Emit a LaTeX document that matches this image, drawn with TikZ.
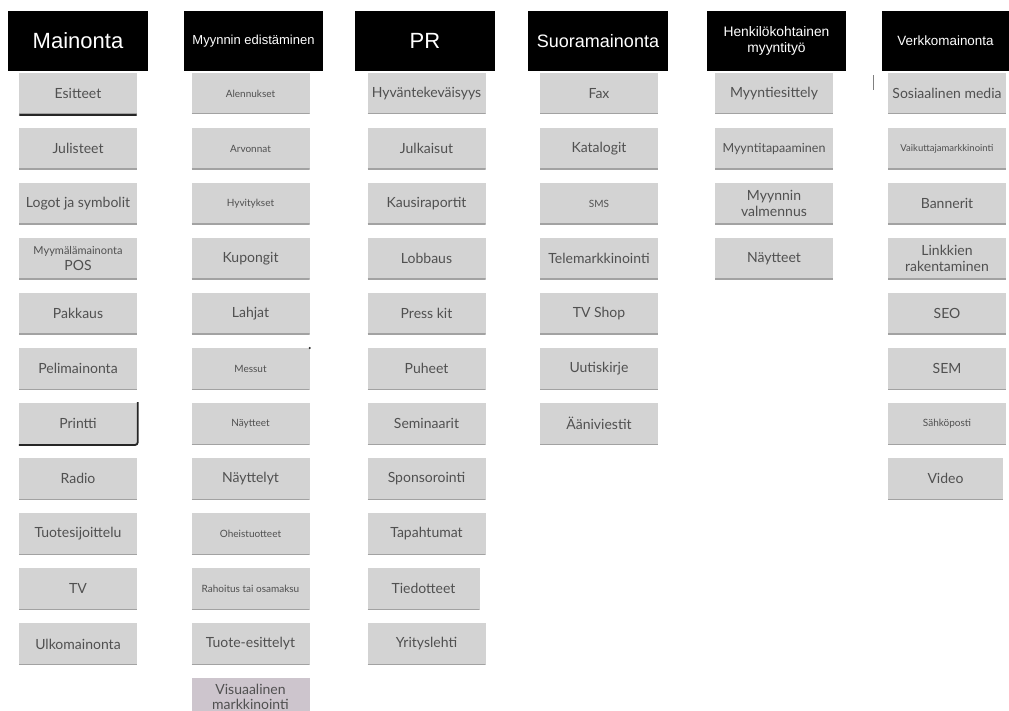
\documentclass[tikz,border=0pt]{standalone}
\usepackage{fontspec}
\setmainfont{Lato}
\newfontfamily\hdfont{Liberation Sans}
\usetikzlibrary{positioning}
\definecolor{boxgray}{HTML}{D3D3D3}
\definecolor{visgray}{HTML}{CDC5CD}
\definecolor{txtgray}{HTML}{505050}
\definecolor{edge}{HTML}{A2A2A2}
\newcommand{\fs}[1]{\fontsize{#1}{16}\selectfont}
\tikzset{
  head/.style={fill=black,text=white,minimum width=140pt,minimum height=60pt,inner sep=2pt,align=center,font=\hdfont\fs{13}},
  box/.style={fill=boxgray,minimum width=118pt,minimum height=41pt,inner sep=1pt,align=center,text=txtgray,font=\fs{14},
    path picture={\draw[edge,line width=1.4pt] (path picture bounding box.south west) -- (path picture bounding box.south east);}},
  sbox/.style={box,font=\fs{10}},
  dark/.style={line width=1.8pt,draw=black!85,line cap=round},
}

\begin{document}
\begin{tikzpicture}[x=1pt,y=1pt,node distance=13.64pt]
  \useasboundingbox (0,0) rectangle (1009,-711);
  % headers
  \node[head,font=\hdfont\fs{22}] (ma) at (78,-41) {Mainonta};
  \node[head,minimum width=139pt] (me) at (253.5,-41) {Myynnin edistäminen};
  \node[head,font=\hdfont\fs{22}] (pr) at (425,-41) {PR};
  \node[head,font=\hdfont\fs{18}] (su) at (598,-41) {Suoramainonta};
  \node[head,minimum width=139pt,font=\hdfont\fs{13.8}] (hm) at (776.5,-41) {Henkilökohtainen\\myyntityö};
  \node[head,minimum width=127pt,font=\hdfont\fs{13.4}] (vm) at (945.5,-41) {Verkkomainonta};
  % Mainonta
  \node[box] (ma1) at (78,-93.5) {Esitteet};
  \node[box,below=of ma1] (ma2) {Julisteet};
  \node[box,below=of ma2] (ma3) {Logot ja symbolit};
  \node[box,below=of ma3] (ma4) {{\fs{11}Myymälämainonta}\\POS};
  \node[box,below=of ma4] (ma5) {Pakkaus};
  \node[box,below=of ma5] (ma6) {Pelimainonta};
  \node[box,below=of ma6] (ma7) {Printti};
  \node[box,below=of ma7] (ma8) {Radio};
  \node[box,below=of ma8] (ma9) {Tuotesijoittelu};
  \node[box,below=of ma9] (ma10) {TV};
  \node[box,below=of ma10] (ma11) {Ulkomainonta};
  % Myynnin edistaminen
  \node[sbox] (me1) at (250.5,-93.5) {Alennukset};
  \node[sbox,below=of me1] (me2) {Arvonnat};
  \node[sbox,below=of me2] (me3) {Hyvitykset};
  \node[box,below=of me3] (me4) {Kupongit};
  \node[box,below=of me4] (me5) {Lahjat};
  \node[sbox,below=of me5] (me6) {Messut};
  \node[sbox,below=of me6] (me7) {Näytteet};
  \node[box,below=of me7] (me8) {Näyttelyt};
  \node[sbox,below=of me8] (me9) {Oheistuotteet};
  \node[sbox,below=of me9] (me10) {Rahoitus tai osamaksu};
  \node[box,below=of me10] (me11) {Tuote-esittelyt};
  \node[box,fill=visgray,minimum height=37pt,font=\fontsize{14}{14.5}\selectfont,below=of me11] (me12) {Visuaalinen\\markkinointi};
  % PR
  \node[box] (pr1) at (426.5,-93.5) {Hyväntekeväisyys};
  \node[box,below=of pr1] (pr2) {Julkaisut};
  \node[box,below=of pr2] (pr3) {Kausiraportit};
  \node[box,below=of pr3] (pr4) {Lobbaus};
  \node[box,below=of pr4] (pr5) {Press kit};
  \node[box,below=of pr5] (pr6) {Puheet};
  \node[box,below=of pr6] (pr7) {Seminaarit};
  \node[box,below=of pr7] (pr8) {Sponsorointi};
  \node[box,below=of pr8] (pr9) {Tapahtumat};
  \node[box,minimum width=112pt,below=of pr9,xshift=-3pt] (pr10) {Tiedotteet};
  \node[box,below=of pr10,xshift=3pt] (pr11) {Yrityslehti};
  % Suoramainonta
  \node[box] (su1) at (599,-93.5) {Fax};
  \node[box,below=of su1] (su2) {Katalogit};
  \node[sbox,below=of su2] (su3) {SMS};
  \node[box,below=of su3] (su4) {Telemarkkinointi};
  \node[box,below=of su4] (su5) {TV Shop};
  \node[box,below=of su5] (su6) {Uutiskirje};
  \node[box,below=of su6] (su7) {Ääniviestit};
  % Henkilokohtainen myyntityo
  \node[box] (hm1) at (774,-93.5) {Myyntiesittely};
  \node[box,font=\fs{12.5},below=of hm1] (hm2) {Myyntitapaaminen};
  \node[box,below=of hm2] (hm3) {Myynnin\\valmennus};
  \node[box,below=of hm3] (hm4) {Näytteet};
  % Verkkomainonta
  \node[box] (vm1) at (947,-93.5) {Sosiaalinen media};
  \node[sbox,font=\fs{9.5},below=of vm1] (vm2) {Vaikuttajamarkkinointi};
  \node[box,below=of vm2] (vm3) {Bannerit};
  \node[box,below=of vm3] (vm4) {Linkkien\\rakentaminen};
  \node[box,below=of vm4] (vm5) {SEO};
  \node[box,below=of vm5] (vm6) {SEM};
  \node[sbox,below=of vm6] (vm7) {Sähköposti};
  \node[box,minimum width=115pt,below=of vm7,xshift=-1.5pt] (vm8) {Video};
  % stray marks
  \draw[dark] ([xshift=1pt,yshift=-0.5pt]ma1.south west) -- ([xshift=-1pt,yshift=-0.5pt]ma1.south east);
  \draw[dark,line cap=butt,rounded corners=2.5pt] ([xshift=0.5pt,yshift=1pt]ma7.north east) -- ([xshift=0.5pt,yshift=-0.5pt]ma7.south east) -- ([yshift=-0.5pt]ma7.south west);
  \fill[black!85] (me6.north east) circle (1.2pt);
  \draw[gray,line width=0.8pt] ([xshift=-14pt,yshift=18pt]vm1.west) -- ++(0,-15);
\end{tikzpicture}
\end{document}
